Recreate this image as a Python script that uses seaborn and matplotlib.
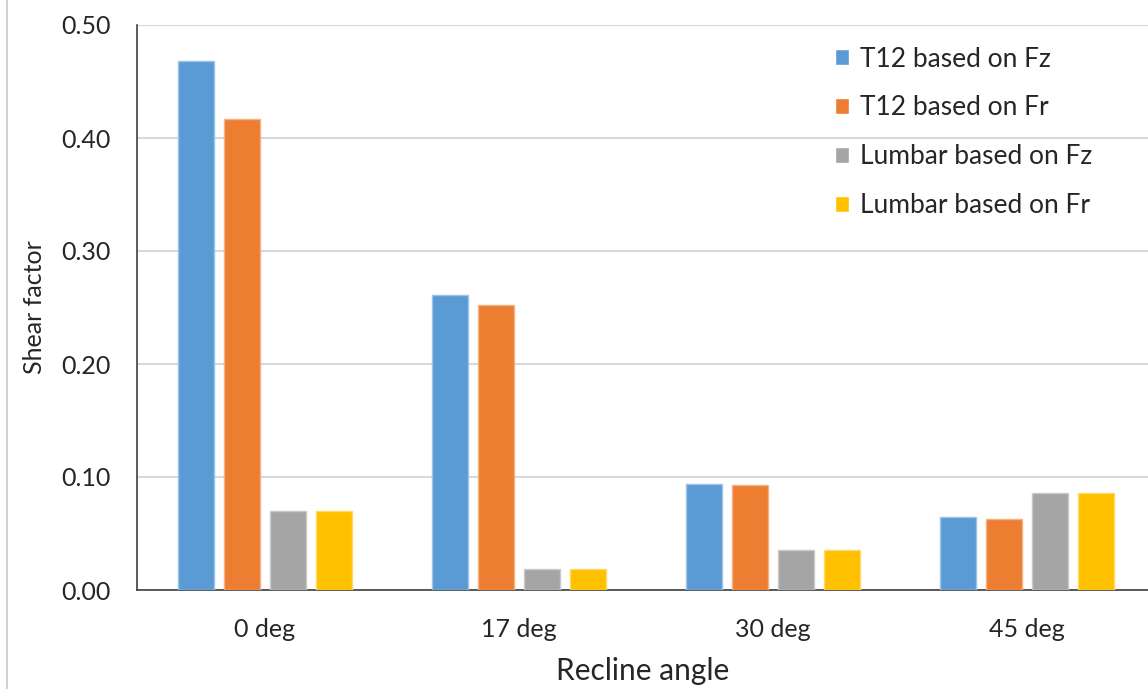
import numpy as np
import pandas as pd
import matplotlib
matplotlib.use("Agg")
import matplotlib.pyplot as plt
from matplotlib.lines import Line2D
import seaborn as sns

angles = ["0 deg", "17 deg", "30 deg", "45 deg"]
series = ["T12 based on Fz", "T12 based on Fr", "Lumbar based on Fz", "Lumbar based on Fr"]
t12_fz = [0.468, 0.261, 0.094, 0.065]
t12_fr = [0.417, 0.252, 0.093, 0.063]
lumbar_fz = [0.070, 0.019, 0.035, 0.086]
lumbar_fr = [0.070, 0.019, 0.035, 0.086]
yticks = [0.0, 0.1, 0.2, 0.3, 0.4, 0.5]

colors = ["#5B9BD5", "#ED7D31", "#A5A5A5", "#FFC000"]
edges = ["#9DC3E6", "#F4B183", "#C9C9C9", "#FFD966"]

rows = []
for name, vals in zip(series, [t12_fz, t12_fr, lumbar_fz, lumbar_fr]):
    for a, v in zip(angles, vals):
        rows.append({"Recline angle": a, "Series": name, "Shear factor": v})
df = pd.DataFrame(rows)

sns.set_theme(style="white")
plt.rcParams["font.family"] = ["Lato", "DejaVu Sans"]

fig = plt.figure(figsize=(11.48, 6.89), dpi=100)
ax = fig.add_axes([137 / 1148, 1 - 590 / 689, 1 - 137 / 1148, (590 - 25) / 689])

sns.barplot(data=df, x="Recline angle", y="Shear factor", hue="Series",
            order=angles, hue_order=series, palette=colors, saturation=1,
            width=0.724, gap=0.22, ax=ax, legend=True, zorder=3)

for cont, ec in zip(ax.containers, edges):
    for p in cont:
        p.set_edgecolor(ec)
        p.set_linewidth(1.0)

ax.set_xlim(-0.504, 3.476)
ax.set_ylim(0, 0.5)
ax.set_yticks(yticks)
ax.set_yticklabels([f"{t:.2f}" for t in yticks])
ax.yaxis.grid(True, color="#D9D9D9", linewidth=1.5, zorder=0)
ax.set_axisbelow(True)
ax.tick_params(axis="both", length=0, labelsize=18, colors="#262626")
ax.tick_params(axis="y", pad=19)
ax.tick_params(axis="x", pad=20)

for s in ["top", "right"]:
    ax.spines[s].set_visible(False)
for s in ["left", "bottom"]:
    ax.spines[s].set_color("#404040")
    ax.spines[s].set_linewidth(1.2)

ax.set_xlabel("Recline angle", fontsize=21.5, color="#262626", labelpad=12)
ax.set_ylabel("Shear factor", fontsize=18, color="#262626", va="center")
ax.yaxis.set_label_coords((35 - 137) / (1148 - 137), 0.5)

leg = ax.legend(loc="upper left", bbox_to_anchor=((813 - 137) / (1148 - 137), 1.0),
                frameon=False, fontsize=19, handlelength=0.55, handleheight=0.55,
                handletextpad=0.4, labelspacing=0.9, borderaxespad=0.42)
for t in leg.get_texts():
    t.set_color("#262626")

fig.add_artist(Line2D([7 / 1148, 7 / 1148], [0, 1], transform=fig.transFigure,
                      color="#C8C8C8", linewidth=1.2))

fig.savefig("out.png", dpi=100)
